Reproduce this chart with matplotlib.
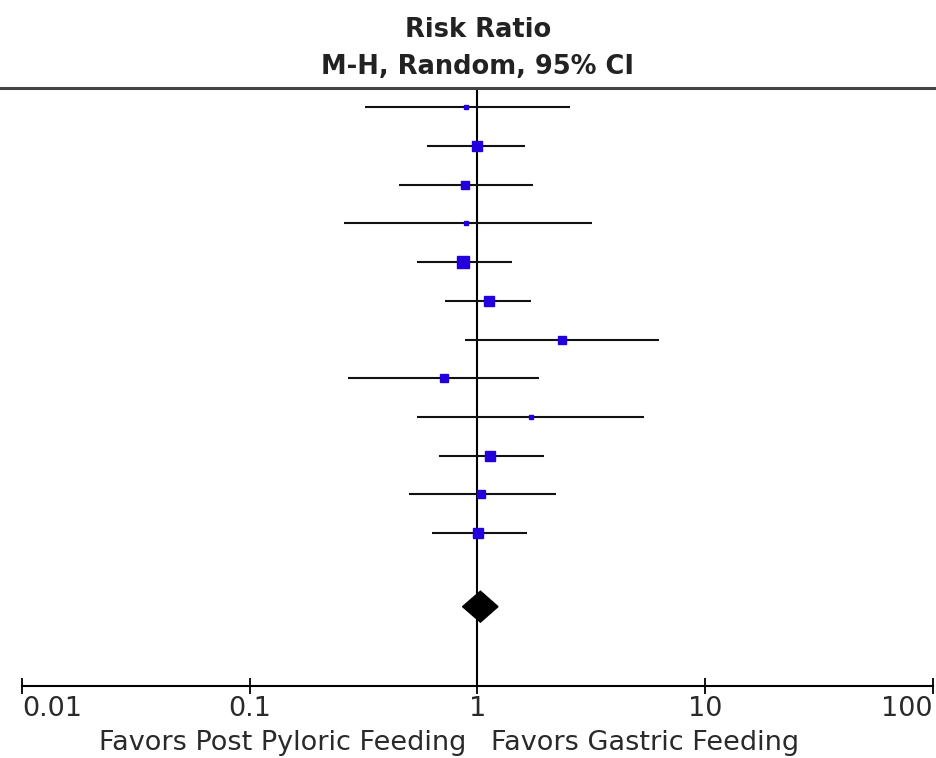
import numpy as np
import matplotlib.pyplot as plt
from matplotlib.lines import Line2D

# per-study risk ratio with 95% CI (M-H, random effects)
riskRatio = [0.89, 0.99, 0.88, 0.89, 0.86, 1.12, 2.35, 0.71, 1.72, 1.14, 1.04, 1.01]
lowerCI = [0.32, 0.60, 0.45, 0.26, 0.54, 0.72, 0.88, 0.27, 0.54, 0.68, 0.50, 0.63]
upperCI = [2.54, 1.61, 1.75, 3.18, 1.42, 1.72, 6.25, 1.86, 5.41, 1.95, 2.22, 1.65]
weightPct = [1.2, 13.0, 6.4, 1.2, 18.7, 13.0, 6.4, 8.3, 2.1, 13.0, 6.4, 10.5]

# pooled estimate
pooledRR = 1.03
pooledLower = 0.86
pooledUpper = 1.23

tickValues = [0.01, 0.1, 1, 10, 100]
tickLabels = ['0.01', '0.1', '1', '10', '100']
leftLabel = 'Favors Post Pyloric Feeding'
rightLabel = 'Favors Gastric Feeding'

W, H = 937, 758
fig = plt.figure(figsize=(W / 100, H / 100), dpi=100)
ax = fig.add_axes([22 / W, 1 - 686 / H, 911 / W, (686 - 88) / H])

rows = np.arange(len(riskRatio))

# confidence interval whiskers
ax.hlines(rows, lowerCI, upperCI, color='#111111', lw=1.5, zorder=2)

# squares sized by study weight
sizes = 2.0 * np.sqrt(weightPct)
for y, rr, s in zip(rows, riskRatio, sizes):
    ax.plot(rr, y, marker='s', ms=s, color='#2200dd', mec='#2200dd', ls='none', zorder=3)

# pooled diamond
yd = 12.9
ax.fill([pooledLower, pooledRR, pooledUpper, pooledRR],
        [yd, yd - 0.4, yd, yd + 0.4], color='black', zorder=3)

# line of no effect
ax.axvline(1, color='black', lw=1.5, zorder=1)

ax.set_xscale('log')
ax.set_xlim(0.01, 100)
ax.set_ylim(14.95, -0.5)
ax.set_yticks([])
for side in ['left', 'right', 'top']:
    ax.spines[side].set_visible(False)
ax.spines['bottom'].set_linewidth(1.5)

ax.set_xticks(tickValues)
ax.set_xticklabels(tickLabels)
ax.xaxis.set_minor_locator(plt.NullLocator())
ax.tick_params(axis='x', direction='inout', length=12, width=1.3, pad=1,
               labelsize=19.5, labelcolor='#2a2a2a')
for t in ax.xaxis.get_major_ticks():
    t.tick1line.set_clip_on(False)
labels = ax.get_xticklabels()
labels[0].set_ha('left')
labels[-1].set_ha('right')

# header line and titles
fig.add_artist(Line2D([0, 1], [1 - 88 / H, 1 - 88 / H], transform=fig.transFigure,
                      color='#444444', lw=2.2))
fig.text(478 / W, 1 - 30 / H, 'Risk Ratio', ha='center', va='center',
         fontsize=18.5, fontweight='bold', color='#222222')
fig.text(478 / W, 1 - 67 / H, 'M-H, Random, 95% CI', ha='center', va='center',
         fontsize=18.5, fontweight='bold', color='#222222')

fig.text(466 / W, 1 - 743 / H, leftLabel, ha='right', va='center',
         fontsize=19.5, color='#2a2a2a')
fig.text(491 / W, 1 - 743 / H, rightLabel, ha='left', va='center',
         fontsize=19.5, color='#2a2a2a')

plt.savefig('out.png', dpi=100)
